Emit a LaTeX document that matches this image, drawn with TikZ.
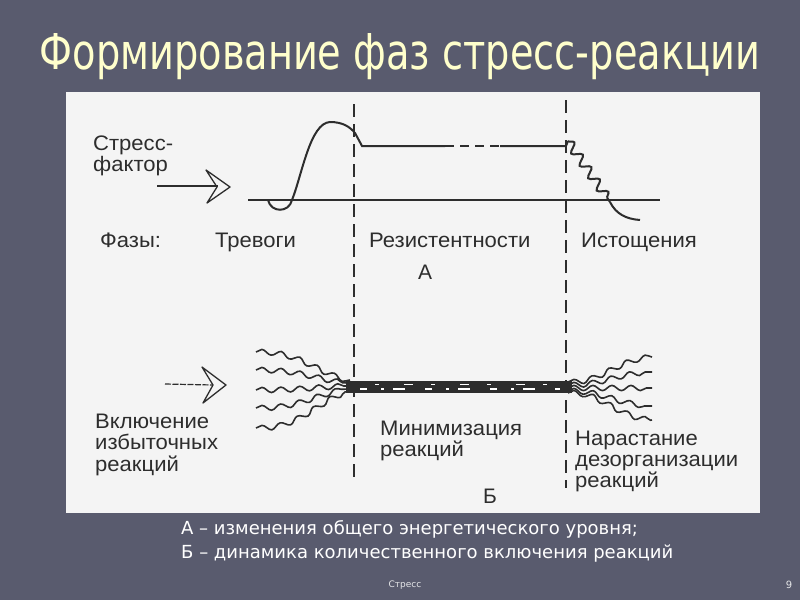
\documentclass[tikz,border=0pt]{standalone}
\usepackage{fontspec}
\setmainfont{Liberation Sans}
\newfontfamily\capfont{DejaVu Sans}
\newfontfamily\titlefont{DejaVu Sans Condensed}
\usetikzlibrary{decorations.pathmorphing}
\definecolor{bg}{RGB}{89,91,110}
\definecolor{paper}{RGB}{244,244,244}
\definecolor{ink}{RGB}{45,45,45}
\definecolor{ttl}{RGB}{255,255,204}
\newcommand{\wtxt}[1]{\scalebox{1.05}[1]{\begin{tabular}[t]{@{}l@{}}#1\end{tabular}}}
\begin{document}
\begin{tikzpicture}[x=1pt,y=-1pt,
  lbl/.style={font=\fontsize{21}{21}\selectfont, text=ink, inner sep=0pt, anchor=base west},
  capt/.style={font=\capfont\fontsize{18}{20}\selectfont, text=white, inner sep=0pt, anchor=west},
  curve/.style={draw=ink, line width=2pt},
  phase/.style={draw=ink, line width=2.4pt, dash pattern=on 13pt off 7pt},
  wave/.style={draw=ink, line width=1.6pt, decorate, decoration={snake, amplitude=2.6pt, segment length=19pt}},
  openarrow/.style={draw=ink, line width=1.3pt, line join=round}]
\useasboundingbox (0,0) rectangle (800,600);
\fill[bg] (0,0) rectangle (800,600);
% title
\node[inner sep=0pt, text=ttl, anchor=base] (title) at (400,69) {\resizebox{720pt}{36pt}{\titlefont Формирование фаз стресс-реакции}};
% panel
\fill[paper] (66,92) rectangle (760,513);
% phase separators
\coordinate (s1t) at (354,104); \coordinate (s1b) at (354,482);
\coordinate (s2t) at (566,100); \coordinate (s2b) at (566,488);
\draw[phase] (s1t) -- (s1b);
\draw[phase] (s2t) -- (s2b);
% baseline
\coordinate (b0) at (248,200); \coordinate (b1) at (660,200);
\draw[curve] (b0) -- (b1);
% energy curve A
\coordinate (d0) at (268,200); \coordinate (d1) at (292,200);
\coordinate (pk) at (330,122); \coordinate (k1) at (355,133);
\coordinate (l0) at (362,146); \coordinate (l1) at (445,146);
\coordinate (l2) at (500,146); \coordinate (l3) at (566,146);
\coordinate (w1) at (610,202); \coordinate (w2) at (640,220);
\draw[curve] (d0) .. controls (271,213) and (289,213) .. (d1)
  .. controls (302,175) and (310,123) .. (pk)
  .. controls (343,122) and (350,127) .. (k1) -- (l0) -- (l1);
\draw[curve, dash pattern=on 9pt off 6pt] (l1) -- (l2);
\draw[curve] (l2) -- (l3) -- (568,141);
\draw[curve, decorate, decoration={snake, amplitude=4.5pt, segment length=15pt}] (568,141) -- (w1);
\draw[curve] (w1) .. controls (616,214) and (626,219) .. (w2);
% arrow 1
\coordinate (a1s) at (157,186); \coordinate (a1e) at (218,186);
\draw[ink, line width=1.2pt] (a1s) -- (a1e);
\draw[openarrow] (206,170) -- (230,187) -- (207,203) -- (217,187) -- cycle;
% labels top
\node[lbl] (stress) at (93,150) {\wtxt{Стресс-\\фактор}};
\node[lbl] (fazy) at (100,247) {\wtxt{Фазы:}};
\node[lbl] (trev) at (215,247) {\wtxt{Тревоги}};
\node[lbl] (rez) at (369,247) {\wtxt{Резистентности}};
\node[lbl] (ist) at (581,247) {\wtxt{Истощения}};
\node[lbl, anchor=base] (A) at (425,279) {А};
% bottom: arrow 2
\coordinate (a2s) at (165,384); \coordinate (a2e) at (213,385);
\draw[ink, line width=1.2pt, dash pattern=on 6pt off 1.5pt] (a2s) -- (a2e);
\draw[openarrow] (202,367) -- (226,385) -- (203,403) -- (213,385) -- cycle;
% left fan
\coordinate (cl) at (348,385);
\foreach \y/\e in {352/380,370/383,390/386,408/389,428/392}{
  \draw[wave] (256,\y) .. controls (300,\y) and (320,\e) .. (350,\e);
}
% band
\coordinate (bandL) at (346,387); \coordinate (bandR) at (572,387);
\draw[ink, line width=12pt] (bandL) -- (bandR);
\draw[white, line width=1.4pt, dash pattern=on 7pt off 14pt on 3pt off 9pt on 12pt off 20pt] (360,389) -- (560,389);
\draw[white, line width=1pt, dash pattern=on 4pt off 25pt on 9pt off 18pt] (375,384) -- (555,384);
% right fan
\foreach \y/\e in {382/357,385/372,388/388,391/406,393/420}{
  \draw[wave] (568,\y) .. controls (598,\y) and (615,\e) .. (652,\e);
}
% labels bottom
\node[lbl] (vkl) at (95,428) {\wtxt{Включение\\избыточных\\реакций}};
\node[lbl] (min) at (380,435) {\wtxt{Минимизация\\реакций}};
\node[lbl] (nar) at (575,445) {\wtxt{Нарастание\\дезорганизации\\реакций}};
\node[lbl, anchor=base] (B) at (490,503) {Б};
% caption
\node[capt] (cap1) at (181,529) {А – изменения общего энергетического уровня;};
\node[capt] (cap2) at (181,554) {Б – динамика количественного включения реакций};
% footer
\node[inner sep=0pt, text=white!85!bg, font=\capfont\fontsize{9}{10}\selectfont] (foot) at (405,585) {Стресс};
\node[inner sep=0pt, text=white!85!bg, font=\capfont\fontsize{10}{11}\selectfont] (pg) at (789,585) {9};
\end{tikzpicture}
\end{document}
